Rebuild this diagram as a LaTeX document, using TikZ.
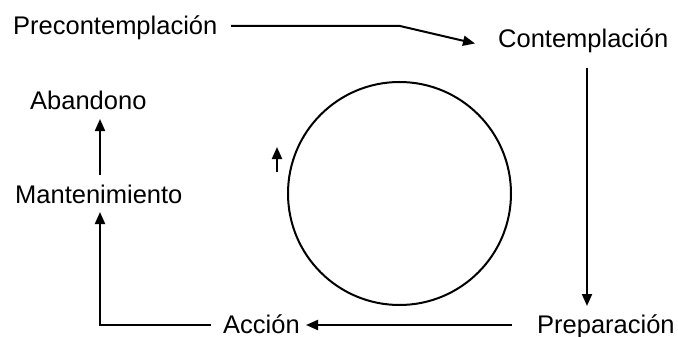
\documentclass[tikz,border=0pt]{standalone}
\usepackage{fontspec}
\setmainfont{Liberation Sans}
\usetikzlibrary{arrows.meta,calc}
\begin{document}
\begin{tikzpicture}[x=1pt,y=-1pt,
  lbl/.style={inner sep=0pt,anchor=base west,font=\fontsize{25.5}{30}\selectfont},
  conn/.style={line width=2pt},
  arr/.style={conn,-{Triangle[length=12pt,width=10pt]}}]
\useasboundingbox (0,0) rectangle (678,337);
\node[lbl] (pre)  at (13,35)  {Precontemplación};
\node[lbl] (con)  at (498,48) {Contemplación};
\node[lbl] (prep) at (537,333) {Preparación};
\node[lbl] (acc)  at (223,333) {Acción};
\node[lbl] (man)  at (15,203) {Mantenimiento};
\node[lbl] (aba)  at (30,110) {Abandono};
\node[circle,draw,line width=2pt,minimum size=223pt,inner sep=0pt] (cyc) at (399.5,193.5) {};
% connectors
\coordinate (preout) at (231,26);
\coordinate (bend) at (400,26);
\coordinate (conin) at (475,43.5);
\draw[arr] (preout) -- (bend) -- (conin);
\coordinate (conout) at (587,68);
\coordinate (prepin) at (587,306);
\draw[arr] (conout) -- (prepin);
\coordinate (prepout) at (512,325);
\coordinate (accin) at (306,325);
\draw[arr] (prepout) -- (accin);
\coordinate (accout) at (211,325);
\coordinate (corner) at (100,325);
\coordinate (manin) at (100,212);
\draw[arr] (accout) -- (corner) -- (manin);
\coordinate (manout) at (100,175);
\coordinate (abain) at (100,119);
\draw[arr] (manout) -- (abain);
\coordinate (cycA) at (277,172);
\coordinate (cycB) at (277,147);
\draw[arr] (cycA) -- (cycB);
\end{tikzpicture}
\end{document}
